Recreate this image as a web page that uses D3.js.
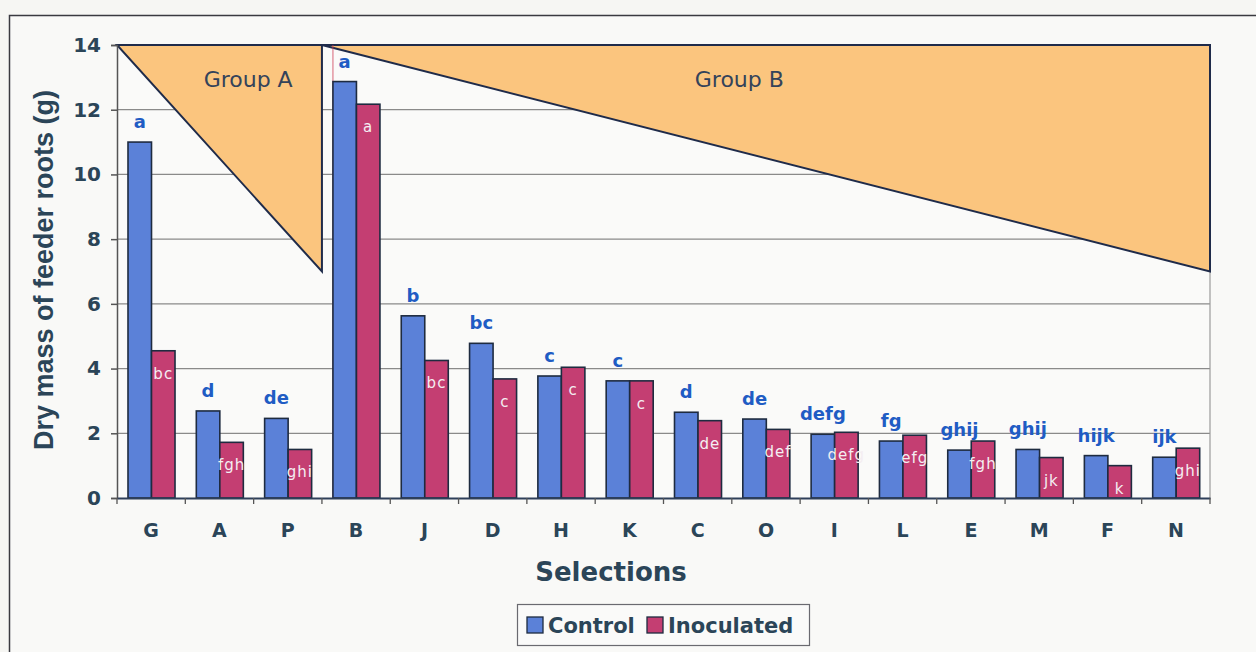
<!DOCTYPE html>
<html><head><meta charset="utf-8">
<script src="https://cdn.jsdelivr.net/npm/d3@7"></script>
<style>
html,body{margin:0;padding:0;background:#f6f6f3;}
svg{display:block;font-family:"DejaVu Sans",Verdana,sans-serif;}
</style></head>
<body>
<svg id="chart" width="1256" height="652"></svg>
<script>
const categories = ["G","A","P","B","J","D","H","K","C","O","I","L","E","M","F","N"];
const controlValues = [11.0,2.69,2.46,12.87,5.63,4.78,3.77,3.62,2.65,2.44,1.97,1.76,1.48,1.50,1.31,1.26];
const inoculatedValues = [4.55,1.72,1.50,12.17,4.25,3.68,4.04,3.62,2.39,2.12,2.03,1.94,1.76,1.25,1.00,1.54];
const controlLetters = ["a","d","de","a","b","bc","c","c","d","de","defg","fg","ghij","ghij","hijk","ijk"];
const inoculatedLetters = ["bc","fgh","ghi","a","bc","c","c","c","de","def","defg","efg","fgh","jk","k","ghi"];
const yTicks = [0,2,4,6,8,10,12,14];
const seriesNames = ["Control","Inoculated"];
const groupNames = ["Group A","Group B"];
const groupFirst = ["G","B"];
const groupLast = ["P","N"];
const groupHigh = [14,14];
const groupLow = [7,7];

const svg = d3.select("#chart");
const M = {left:117, right:1210, top:45, bottom:498};
const colors = {Control:"#5b81d8", Inoculated:"#c43e72"};
const ink = "#2b4558";
const labelFrac = [0.64, 0.47];

// outer frame
svg.append("rect").attr("x",9.5).attr("y",15.5).attr("width",1260).attr("height",660)
  .attr("fill","#f9f9f7").attr("stroke","#3a3a40").attr("stroke-width",1.5);
svg.append("rect").attr("x",M.left).attr("y",M.top).attr("width",M.right-M.left).attr("height",M.bottom-M.top)
  .attr("fill","#fafaf9");

const x = d3.scaleBand().domain(categories).range([M.left,M.right]).paddingInner(0).paddingOuter(0);
const inner = d3.scaleBand().domain(seriesNames).range([11, x.bandwidth()-10.3]).padding(0);
const y = d3.scaleLinear().domain([0,14]).range([M.bottom,M.top]);

// gridlines
svg.append("g").selectAll("line").data(yTicks.filter(d=>d>0)).join("line")
  .attr("x1",M.left).attr("x2",M.right).attr("y1",d=>y(d)).attr("y2",d=>y(d))
  .attr("stroke","#8a8a8a").attr("stroke-width",1.2);
svg.append("line").attr("x1",M.right).attr("x2",M.right).attr("y1",M.top).attr("y2",M.bottom)
  .attr("stroke","#9a9a9a").attr("stroke-width",1.2);

// group triangles
groupNames.forEach((name,k)=>{
  const x0 = x(groupFirst[k]), x1 = x(groupLast[k])+x.bandwidth();
  const pts = [[x0,y(groupHigh[k])],[x1,y(groupHigh[k])],[x1,y(groupLow[k])]];
  svg.append("path").attr("d", d3.line()(pts)+"Z")
    .attr("fill","#fbc57e").attr("stroke","#1f2b4a").attr("stroke-width",2).attr("stroke-linejoin","miter");
  svg.append("text").attr("x", x0 + (x1-x0)*labelFrac[k]).attr("y", y(groupHigh[k])+42)
    .attr("text-anchor","middle").attr("font-size",22).attr("fill","#34435a").text(name);
});

// thin red line at left edge of B group (as in the scan)
svg.append("line").attr("x1",x("B")+inner("Control")).attr("x2",x("B")+inner("Control"))
  .attr("y1",M.top).attr("y2",M.bottom).attr("stroke","#d0405a").attr("stroke-width",1).attr("opacity",0.8);

// bars
const bars = svg.append("g");
categories.forEach((c,i)=>{
  const vals = [controlValues[i], inoculatedValues[i]];
  seriesNames.forEach((s,j)=>{
    bars.append("rect")
      .attr("x", x(c)+inner(s)).attr("y", y(vals[j]))
      .attr("width", inner.bandwidth()).attr("height", y(0)-y(vals[j]))
      .attr("fill", colors[s]).attr("stroke","#1e2b40").attr("stroke-width",1.6);
  });
  bars.append("text").attr("x", x(c)+inner("Control")+inner.bandwidth()/2)
    .attr("y", y(controlValues[i])-14).attr("text-anchor","middle")
    .attr("font-size",18).attr("font-weight","bold").attr("fill","#1f5cc4").text(controlLetters[i]);
  bars.append("text").attr("x", x(c)+inner("Inoculated")+inner.bandwidth()/2)
    .attr("y", y(inoculatedValues[i])+28).attr("text-anchor","middle")
    .attr("font-size",15).attr("fill","#f4eef2").attr("letter-spacing",1).text(inoculatedLetters[i]);
});

// axes
const yAxis = d3.axisLeft(y).tickValues(yTicks).tickSize(6).tickPadding(10).tickFormat(d3.format("d"));
const gy = svg.append("g").attr("transform",`translate(${M.left},0)`).call(yAxis);
gy.select(".domain").attr("stroke","#555").attr("stroke-width",1.5);
gy.selectAll(".tick line").attr("stroke","#555").attr("stroke-width",1.5);
gy.selectAll("text").attr("font-size",20).attr("font-weight","bold").attr("fill",ink)
  .attr("font-family","'DejaVu Sans',Verdana,sans-serif");

const xAxis = d3.axisBottom(x).tickSize(0).tickPadding(26);
const gx = svg.append("g").attr("transform",`translate(0,${M.bottom})`).call(xAxis);
gx.select(".domain").attr("stroke","#2e3f5a").attr("stroke-width",2);
gx.selectAll("text").attr("font-size",19).attr("font-weight","bold").attr("fill",ink)
  .attr("font-family","'DejaVu Sans',Verdana,sans-serif");
svg.append("g").selectAll("line").data(d3.range(categories.length+1)).join("line")
  .attr("x1",i=>M.left+i*x.bandwidth()).attr("x2",i=>M.left+i*x.bandwidth())
  .attr("y1",M.bottom).attr("y2",M.bottom+6).attr("stroke","#555").attr("stroke-width",1.3);

// axis titles
svg.append("text").attr("transform","translate(53,270) rotate(-90)").attr("text-anchor","middle")
  .attr("font-family","'Liberation Sans',Arial,sans-serif")
  .attr("font-size",27).attr("font-weight","bold").attr("fill",ink).text("Dry mass of feeder roots (g)");
svg.append("text").attr("x",611).attr("y",581).attr("text-anchor","middle")
  .attr("font-size",26).attr("font-weight","bold").attr("fill",ink).text("Selections");

// legend
const lg = svg.append("g");
lg.append("rect").attr("x",517.5).attr("y",604.5).attr("width",292).attr("height",41)
  .attr("fill","#fafaf9").attr("stroke","#6a6a70").attr("stroke-width",1.2);
const legendX = [527, 647];
seriesNames.forEach((s,j)=>{
  lg.append("rect").attr("x",legendX[j]).attr("y",617).attr("width",16).attr("height",16)
    .attr("fill",colors[s]).attr("stroke","#1e2b40").attr("stroke-width",1.3);
  lg.append("text").attr("x",legendX[j]+21).attr("y",633).attr("font-size",21).attr("font-weight","bold")
    .attr("fill",ink).text(s);
});
</script>
</body></html>
